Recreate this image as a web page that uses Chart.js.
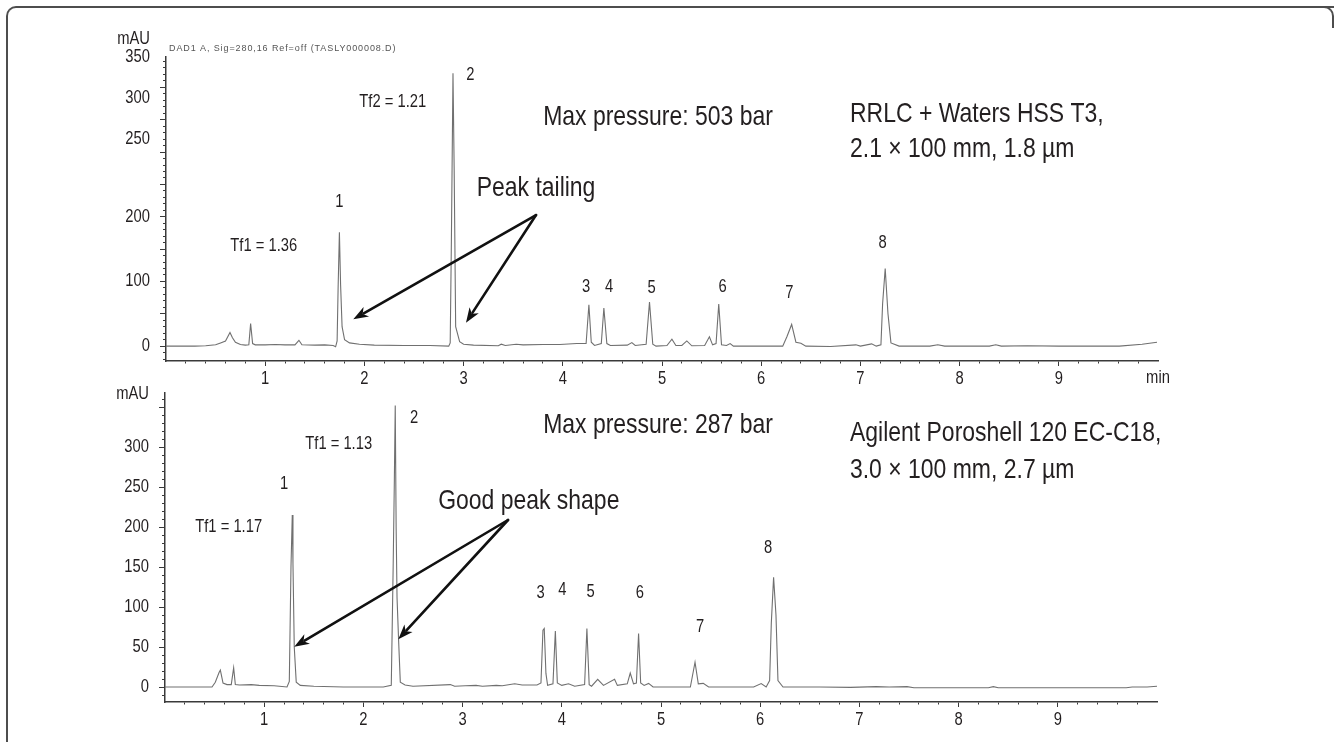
<!DOCTYPE html>
<html>
<head>
<meta charset="utf-8">
<script src="https://cdn.jsdelivr.net/npm/chart.js@4.4.1/dist/chart.umd.min.js"></script>
<style>
html,body{margin:0;padding:0;background:#fff;}
#wrap{position:relative;width:1339px;height:742px;overflow:hidden;background:#fff;}
#wrap canvas{position:absolute;left:0;top:0;}
#frame{position:absolute;left:6px;top:6px;width:1328px;height:800px;border-left:2px solid #4d4d4d;border-top:2px solid #4d4d4d;border-radius:10px 0 0 0;box-sizing:border-box;}
#corner{position:absolute;left:1314px;top:6px;width:20px;height:22px;border-top:2px solid #4d4d4d;border-right:2px solid #4d4d4d;border-radius:0 10px 0 0;box-sizing:border-box;}
</style>
</head>
<body>
<div id="wrap">
  <div id="frame"></div>
  <div id="corner"></div>
  <canvas id="top" width="1339" height="742"></canvas>
  <canvas id="bottom" width="1339" height="742"></canvas>
</div>
<script>
// ---------------- data ----------------
// upper chromatogram (RRLC + Waters HSS T3), time in min, signal in mAU
const topTime = [0.00,0.20,0.29,0.40,0.50,0.55,0.60,0.645,0.67,0.70,0.75,0.80,0.835,0.853,0.873,0.90,1.00,1.10,1.20,1.30,1.34,1.37,1.50,1.60,1.685,1.71,1.725,1.735,1.748,1.76,1.775,1.80,1.85,1.95,2.10,2.40,2.66,2.85,2.865,2.877,2.893,2.905,2.92,2.96,3.00,3.10,3.35,3.38,3.42,3.53,3.60,3.80,3.97,4.14,4.235,4.263,4.287,4.32,4.388,4.414,4.444,4.48,4.65,4.696,4.73,4.84,4.874,4.907,4.94,5.05,5.10,5.14,5.20,5.25,5.30,5.43,5.478,5.51,5.545,5.572,5.60,5.65,5.687,5.72,6.00,6.217,6.26,6.307,6.35,6.40,6.45,6.70,6.955,7.00,7.113,7.16,7.207,7.224,7.25,7.278,7.308,7.39,7.70,7.78,7.85,8.30,8.365,8.42,8.68,9.00,9.61,9.84,9.99];
const topSignal = [0,0,0,0.5,2,5,8,21,13,6,2.5,1.5,2,35,4,2,2,2.5,2,2,9,2,1.5,2,1,-1,8,90,176,95,30,10,5,3,1.5,1,1,0,5,164,422,272,30,7,3,1.5,0.5,3,1,3,2,2.5,2.5,4,4,64,6,1,4,59,4,1,1.5,5.5,1,3,68,3,0,1,10.8,1,1,8,0.5,1,14.5,2,4,65,2,1,4,0,0,0,15,33.5,6,4.5,0,-0.5,2,0,3.5,0,2,66,120,50,5,0,0,2,0,0,2,0,0.5,0,0,3,6];

// lower chromatogram (Agilent Poroshell 120 EC-C18)
const bottomTime = [0.00,0.30,0.474,0.507,0.545,0.558,0.585,0.625,0.668,0.692,0.709,0.75,0.87,0.95,1.10,1.23,1.253,1.27,1.283,1.29,1.303,1.323,1.364,1.50,1.80,2.00,2.20,2.281,2.30,2.312,2.321,2.33,2.339,2.355,2.372,2.42,2.50,2.876,2.92,3.027,3.135,3.20,3.34,3.40,3.525,3.60,3.75,3.79,3.81,3.823,3.84,3.857,3.911,3.935,3.955,4.00,4.068,4.13,4.23,4.253,4.276,4.30,4.362,4.42,4.532,4.56,4.66,4.69,4.723,4.752,4.774,4.795,4.83,4.875,4.92,5.296,5.343,5.376,5.426,5.48,5.934,6.01,6.06,6.095,6.112,6.135,6.159,6.179,6.23,6.60,6.91,7.17,7.30,7.48,7.55,8.30,8.35,8.40,9.69,9.75,9.90,10.0];
const bottomSignal = [0,0,0,6,18,21,5,3,3,24,3,2.5,3,2,1.5,0,7,150,215,154,50,6,2,1,0,0,0,2,150,258,352,200,112,58,6,2.5,1,3,1,1.5,2,1,2,1.5,4,2.5,2.5,5,71,73,17,2,4,70,5,2,4,1,3,73,3,1,9.6,2,9.6,2,4,17.5,4,5,67,5,2,4.5,0,0,31,4,4.5,0,0,4.3,0,8,80,137,90,8,0,0,-0.5,0.5,0,0.5,-1,-1,0.5,-1,-1,0,0,1];

// axis tick labels
const xTickValues = [1,2,3,4,5,6,7,8,9];
const xTickLabels = ['1','2','3','4','5','6','7','8','9'];
const topYLabelValues = [0,100,200,320,384,447];
const topYLabelTexts  = ['0','100','200','250','300','350'];
const bottomYLabelValues = [0,50,100,150,200,250,300];
const bottomYLabelTexts  = ['0','50','100','150','200','250','300'];

// ---------------- style ----------------
const FONT = "'Liberation Sans', Arial, sans-serif";
const NARROW = 0.82;            // horizontal squeeze -> Arial Narrow look
const TEXT = '#231f20';
const AXIS = '#3a3a3a';
const TRACE = '#707070';
const CLEAR = 'rgba(0,0,0,0)';

function narrowText(ctx, text, x, y, size, align, color) {
  ctx.save();
  ctx.font = size + 'px ' + FONT;
  ctx.fillStyle = color || TEXT;
  ctx.textAlign = align || 'center';
  ctx.textBaseline = 'middle';
  ctx.translate(x, y);
  ctx.scale(NARROW, 1);
  ctx.fillText(text, 0, 0);
  ctx.restore();
}

function gridValues(min, max, step) {
  const out = [];
  for (let i = Math.ceil(min / step); i * step <= max + 1e-9; i++) out.push(Math.round(i * step * 1000) / 1000);
  return out;
}

function xScale() {
  const grid = gridValues(0.2, 9.9, 0.2);
  const isMajor = v => Math.abs(v - Math.round(v)) < 1e-6;
  return {
    type: 'linear', min: 0, max: 10,
    afterBuildTicks: s => { s.ticks = grid.map(v => ({ value: v })); },
    afterFit: s => { s.height = 30; },
    ticks: { display: false, autoSkip: false },
    grid: {
      drawOnChartArea: false, tickLength: 5, tickWidth: 1, tickColor: AXIS,
      tickBorderDash: c => (c.tick && !isMajor(c.tick.value)) ? [2, 20] : [],
      tickBorderDashOffset: 0
    },
    border: { color: AXIS, width: 1.5 }
  };
}

function yScale(cfg) {
  const grid = gridValues(cfg.min, cfg.max, 10);
  const all = Array.from(new Set(grid.concat(cfg.labelValues))).sort((a, b) => a - b);
  const onGrid = v => grid.some(g => Math.abs(g - v) < 1e-6);
  const isMajor = v => Math.abs(v / 50 - Math.round(v / 50)) < 1e-6;
  return {
    type: 'linear', min: cfg.min, max: cfg.max,
    afterBuildTicks: s => { s.ticks = all.map(v => ({ value: v })); },
    afterFit: s => { s.width = cfg.width; },
    ticks: { display: false, autoSkip: false },
    grid: {
      drawOnChartArea: false, tickLength: 6, tickWidth: 1,
      tickColor: c => (!c.tick || onGrid(c.tick.value)) ? AXIS : CLEAR,
      tickBorderDash: c => (c.tick && !isMajor(c.tick.value)) ? [3, 3] : [],
      tickBorderDashOffset: c => (c.tick && !isMajor(c.tick.value)) ? 3 : 0
    },
    border: { color: AXIS, width: 1.5 }
  };
}

function notesPlugin(cfg) {
  return {
    id: 'notes',
    afterDraw(chart) {
      const { ctx, scales: { x, y } } = chart;
      ctx.save();
      // tick labels, placed by the chart's own scales
      xTickValues.forEach((v, i) => narrowText(ctx, xTickLabels[i], x.getPixelForValue(v), x.top + 18.5, 18));
      cfg.yLabelValues.forEach((v, i) => narrowText(ctx, cfg.yLabelTexts[i], y.right - 16, y.getPixelForValue(v), 18, 'right'));
      narrowText(ctx, 'mAU', y.right - 16, y.top + cfg.mauOffset, 18, 'right');
      if (cfg.withMin) narrowText(ctx, 'min', x.right, x.top + 17, 18);
      if (cfg.header) {
        ctx.font = "9px 'Liberation Sans', Arial, sans-serif";
        ctx.fillStyle = '#555';
        ctx.textAlign = 'left';
        ctx.textBaseline = 'middle';
        try { ctx.letterSpacing = '0.9px'; } catch (e) {}
        ctx.fillText(cfg.header, x.left + 3, y.top - 8);
        try { ctx.letterSpacing = '0px'; } catch (e) {}
      }
      // annotations
      cfg.notes.forEach(n => narrowText(ctx, n.text, x.getPixelForValue(n.t), y.getPixelForValue(n.v), n.size || 18, n.align || 'center'));
      // arrows
      cfg.arrows.forEach(a => {
        const x0 = x.getPixelForValue(a.from[0]), y0 = y.getPixelForValue(a.from[1]);
        const x1 = x.getPixelForValue(a.to[0]), y1 = y.getPixelForValue(a.to[1]);
        const ang = Math.atan2(y1 - y0, x1 - x0);
        const c = Math.cos(ang), s = Math.sin(ang);
        const L = 15, W = 5.5;
        ctx.strokeStyle = '#111'; ctx.fillStyle = '#111'; ctx.lineWidth = 2.6; ctx.lineCap = 'round';
        ctx.beginPath();
        ctx.moveTo(x0, y0);
        ctx.lineTo(x1 - c * L * 0.8, y1 - s * L * 0.8);
        ctx.stroke();
        ctx.beginPath();
        ctx.moveTo(x1, y1);
        ctx.lineTo(x1 - c * L + s * W, y1 - s * L - c * W);
        ctx.lineTo(x1 - c * L * 0.72, y1 - s * L * 0.72);
        ctx.lineTo(x1 - c * L - s * W, y1 - s * L + c * W);
        ctx.closePath();
        ctx.fill();
      });
      ctx.restore();
    }
  };
}

function makeChart(id, time, signal, yCfg, pad, cfg) {
  return new Chart(document.getElementById(id), {
    type: 'line',
    data: {
      datasets: [{
        data: time.map((t, i) => ({ x: t, y: signal[i] })),
        borderColor: TRACE, borderWidth: 1.1, pointRadius: 0, tension: 0, fill: false
      }]
    },
    options: {
      responsive: false, animation: false, events: [],
      layout: { padding: pad },
      plugins: { legend: { display: false }, tooltip: { enabled: false } },
      scales: { x: xScale(), y: yScale(yCfg) }
    },
    plugins: [notesPlugin(cfg)]
  });
}

// ---------------- upper chart ----------------
makeChart('top', topTime, topSignal,
  { min: -23, max: 447, width: 166, labelValues: topYLabelValues },
  { top: 57, right: 1339 - 1158, bottom: 742 - 361 - 30, left: 0 },
  {
    yLabelValues: topYLabelValues, yLabelTexts: topYLabelTexts,
    mauOffset: -18, withMin: true,
    header: 'DAD1 A, Sig=280,16 Ref=off (TASLY000008.D)',
    notes: [
      { text: 'Tf2 = 1.21', t: 2.286, v: 377.9 },
      { text: '2', t: 3.068, v: 419.2 },
      { text: 'Tf1 = 1.36', t: 0.985, v: 154.3 },
      { text: '1', t: 1.747, v: 223.3 },
      { text: '3', t: 4.234, v: 91.9 },
      { text: '4', t: 4.466, v: 91.9 },
      { text: '5', t: 4.896, v: 89.4 },
      { text: '6', t: 5.612, v: 91.9 },
      { text: '7', t: 6.283, v: 82.6 },
      { text: '8', t: 7.225, v: 159 },
      { text: 'Max pressure: 503 bar', t: 4.96, v: 354.2, size: 28 },
      { text: 'RRLC + Waters HSS T3,', t: 6.895, v: 357.8, size: 28, align: 'left' },
      { text: '2.1 × 100 mm, 1.8 µm', t: 6.895, v: 303.7, size: 28, align: 'left' },
      { text: 'Peak tailing', t: 3.73, v: 244.5, size: 28 }
    ],
    arrows: [
      { from: [3.73, 202.7], to: [1.888, 41.5] },
      { from: [3.73, 202.7], to: [3.024, 36.2] }
    ]
  }
);

// ---------------- lower chart ----------------
makeChart('bottom', bottomTime, bottomSignal,
  { min: -18.75, max: 367.5, width: 165, labelValues: bottomYLabelValues },
  { top: 393, right: 1339 - 1157, bottom: 742 - 702 - 30, left: 0 },
  {
    yLabelValues: bottomYLabelValues, yLabelTexts: bottomYLabelTexts,
    mauOffset: 1, withMin: false, header: null,
    notes: [
      { text: 'Tf1 = 1.13', t: 1.751, v: 304.1 },
      { text: '2', t: 2.51, v: 335.9 },
      { text: '1', t: 1.2, v: 253.75 },
      { text: 'Tf1 = 1.17', t: 0.642, v: 200 },
      { text: '3', t: 3.787, v: 117.1 },
      { text: '4', t: 4.005, v: 121.25 },
      { text: '5', t: 4.291, v: 119.1 },
      { text: '6', t: 4.788, v: 117.1 },
      { text: '7', t: 5.393, v: 75.4 },
      { text: '8', t: 6.079, v: 173.75 },
      { text: 'Max pressure: 287 bar', t: 4.97, v: 327.5, size: 28 },
      { text: 'Agilent Poroshell 120 EC-C18,', t: 6.905, v: 317.5, size: 28, align: 'left' },
      { text: '3.0 × 100 mm, 2.7 µm', t: 6.905, v: 271.25, size: 28, align: 'left' },
      { text: 'Good peak shape', t: 3.667, v: 231.6, size: 28 }
    ],
    arrows: [
      { from: [3.458, 208.75], to: [1.303, 50.4] },
      { from: [3.458, 208.75], to: [2.352, 59.6] }
    ]
  }
);
</script>
</body>
</html>
